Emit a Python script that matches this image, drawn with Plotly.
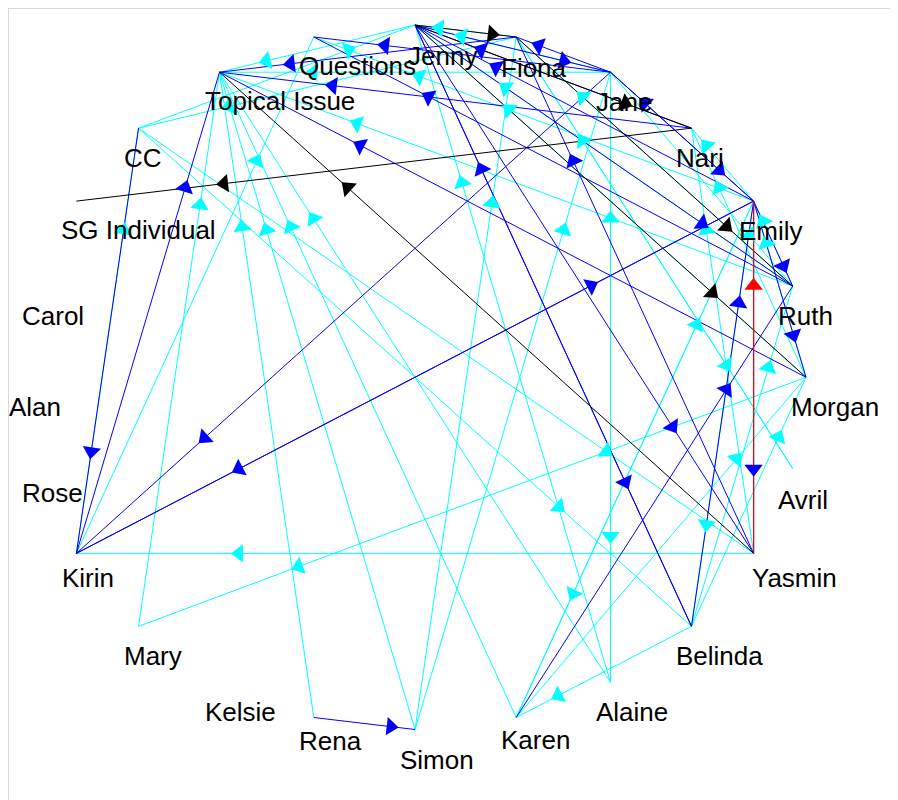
import math
import plotly.graph_objects as go

# ---------------- data ----------------
nodes = ["Jenny", "Fiona", "Jane", "Nari", "Emily", "Ruth", "Morgan", "Avril",
         "Yasmin", "Belinda", "Alaine", "Karen", "Simon", "Rena", "Kelsie",
         "Mary", "Kirin", "Rose", "Alan", "Carol", "SG Individual", "CC",
         "Topical Issue", "Questions"]

cyan_edges = [
    ("Yasmin", "Kirin"), ("Morgan", "Mary"), ("Mary", "Topical Issue"),
    ("Rena", "Topical Issue"), ("Simon", "Topical Issue"), ("Karen", "Topical Issue"),
    ("Kirin", "Questions"), ("Simon", "Fiona"), ("Simon", "Jane"),
    ("Emily", "Karen"), ("Karen", "Emily"), ("Karen", "Morgan"),
    ("Belinda", "Karen"), ("Jane", "Alaine"), ("Alaine", "Jane"),
    ("Emily", "Belinda"), ("Belinda", "Ruth"), ("Ruth", "Fiona"),
    ("Morgan", "Jenny"), ("Jenny", "Topical Issue"), ("CC", "Jenny"),
    ("Emily", "Questions"), ("Ruth", "Jenny"), ("Ruth", "Topical Issue"),
    ("Alaine", "Topical Issue"), ("Alaine", "Jenny"), ("Emily", "Nari"),
    ("Fiona", "Jenny"), ("Jane", "Jenny"), ("Morgan", "Nari"),
    ("Ruth", "Emily"), ("Jane", "Ruth"), ("Yasmin", "Nari"),
    ("Morgan", "Emily"), ("Fiona", "Avril"), ("Avril", "Fiona"),
    ("Belinda", "Morgan"), ("CC", "Yasmin"), ("CC", "Belinda"),
    ("Kirin", "CC"), ("Jane", "Topical Issue"), ("Fiona", "CC"),
]

blue_edges = [
    ("Kirin", "Topical Issue"), ("CC", "Kirin"), ("Jane", "Kirin"),
    ("Emily", "Kirin"), ("Rena", "Simon"), ("Karen", "Ruth"),
    ("Jenny", "Belinda"), ("Emily", "Yasmin"), ("Jane", "Questions"),
    ("Nari", "Jenny"), ("Emily", "Jenny"), ("Nari", "Topical Issue"),
    ("Ruth", "Questions"), ("Morgan", "Topical Issue"), ("Belinda", "Jenny"),
    ("Yasmin", "Fiona"), ("Jane", "Fiona"), ("Jenny", "Jane"),
    ("Emily", "Jane"), ("Jane", "Emily"), ("Jenny", "Ruth"),
    ("Emily", "Ruth"), ("Belinda", "Emily"), ("Emily", "Morgan"),
    ("Jenny", "Yasmin"), ("Kirin", "Emily"), ("Fiona", "Topical Issue"),
]

black_edges = [
    ("Jenny", "Fiona"), ("Jenny", "Nari"), ("Nari", "SG Individual"),
    ("Yasmin", "Topical Issue"), ("Fiona", "Ruth"), ("Jenny", "Morgan"),
]

red_edges = [("Yasmin", "Emily")]

# ---------------- layout helpers ----------------
W, H = 890, 792
X_RANGE = [-1.04092, 1.23529]
Y_RANGE = [-1.20014, 1.04826]
SX = W / (X_RANGE[1] - X_RANGE[0])
SY = H / (Y_RANGE[1] - Y_RANGE[0])
ARROW_AT = 0.76

n = len(nodes)
pos = {name: (math.sin(2 * math.pi * i / n), math.cos(2 * math.pi * i / n))
       for i, name in enumerate(nodes)}

fig = go.Figure()


def add_lines(edges, color, width=1):
    xs, ys = [], []
    for s, t in edges:
        (x0, y0), (x1, y1) = pos[s], pos[t]
        xs += [x0, x1, None]
        ys += [y0, y1, None]
    fig.add_trace(go.Scatter(x=xs, y=ys, mode="lines",
                             line=dict(color=color, width=width),
                             hoverinfo="skip", showlegend=False))


def add_arrows(edges, color):
    xs, ys, angs = [], [], []
    for s, t in edges:
        (x0, y0), (x1, y1) = pos[s], pos[t]
        xs.append(x0 + ARROW_AT * (x1 - x0))
        ys.append(y0 + ARROW_AT * (y1 - y0))
        angs.append(math.degrees(math.atan2((x1 - x0) * SX, (y1 - y0) * SY)))
    fig.add_trace(go.Scatter(x=xs, y=ys, mode="markers",
                             marker=dict(symbol="triangle-up", size=16,
                                         color=color, angle=angs,
                                         line=dict(width=0)),
                             hoverinfo="skip", showlegend=False))


groups = [(cyan_edges, "#00FFFF"), (blue_edges, "#0000FF"),
          (black_edges, "#000000"), (red_edges, "#FF0000")]
for e, c in groups:
    add_lines(e, c, 1.2 if c == "#FF0000" else 1)
for e, c in groups:
    add_arrows(e, c)

label_nudge = {"Jenny": (8, -1), "Fiona": (0, -1), "Avril": (0, -2),
               "Yasmin": (13, 5), "Kirin": (1, 5), "Rose": (0, 5),
               "Karen": (0, 8), "Rena": (0, 7), "Questions": (0, 1),
               "Topical Issue": (0, 1), "SG Individual": (0, 1)}
annotations = []
for name in nodes:
    dx, dy = label_nudge.get(name, (0, 0))
    annotations.append(dict(x=pos[name][0], y=pos[name][1], text=name,
                            showarrow=False, xanchor="left", yanchor="middle",
                            xshift=-17 + dx, yshift=-30 + dy,
                            font=dict(family="Liberation Sans, Arial", size=26,
                                      color="black")))

fig.update_layout(
    width=W, height=H,
    margin=dict(l=0, r=0, t=0, b=0),
    paper_bgcolor="white", plot_bgcolor="white",
    xaxis=dict(range=X_RANGE, visible=False, fixedrange=True),
    yaxis=dict(range=Y_RANGE, visible=False, fixedrange=True),
    annotations=annotations,
    shapes=[dict(type="rect", xref="paper", yref="paper", x0=0, y0=-0.02,
                 x1=1.02, y1=1, line=dict(color="#d9d9d9", width=2),
                 layer="above")],
)

fig.write_html("out.html")
